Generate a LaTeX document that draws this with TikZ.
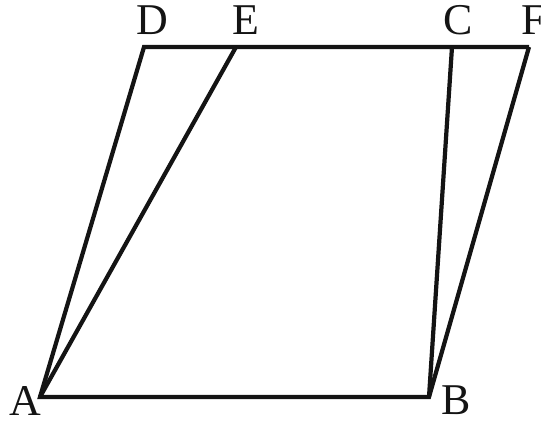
\documentclass[tikz,border=0pt]{standalone}
\usepackage{fontspec}
\setmainfont{Liberation Serif}
\usepackage{tikz}
\usetikzlibrary{positioning, calc}
\definecolor{mydark}{RGB}{20,20,20}
\tikzset{
  edge/.style={line width=2.4pt, color=mydark, line join=miter},
  ptlabel/.style={font=\fontsize{25}{30}\selectfont, text=mydark, inner sep=0pt}
}
\begin{document}
\begin{tikzpicture}[x=0.02cm, y=-0.02cm]
  \useasboundingbox (0,0) rectangle (541,421);

  % Vertices
  \coordinate (A) at (40, 397);
  \coordinate (B) at (429, 397);
  \coordinate (D) at (144, 47);
  \coordinate (E) at (236, 47);
  \coordinate (C) at (452, 47);
  \coordinate (F) at (529, 47);

  % Labels
  \node (lD) at (152, 20) [ptlabel] {D};
  \node (lE) at (246, 20) [ptlabel] {E};
  \node (lC) at (458, 20) [ptlabel] {C};
  \node (lF) at (534, 20) [ptlabel] {F};
  \node (lA) at (25, 401) [ptlabel] {A};
  \node (lB) at (456, 400) [ptlabel] {B};

  % Sides
  \draw[edge] (F) -- (D) -- (A) -- (B) -- (F);
  \draw[edge] (A) -- (E);
  \draw[edge] (B) -- (C);
\end{tikzpicture}
\end{document}
